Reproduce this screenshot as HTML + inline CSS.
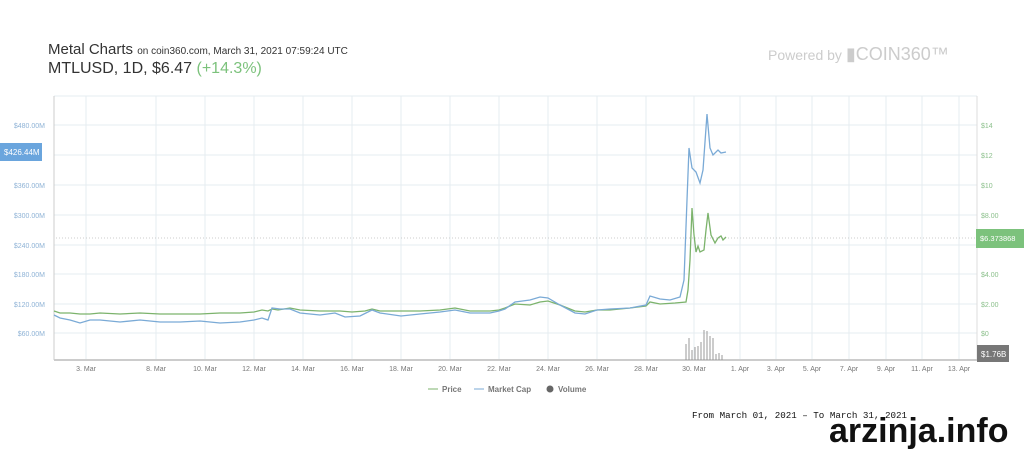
<!DOCTYPE html>
<html><head><meta charset="utf-8"><style>
body{margin:0;width:1024px;height:448px;background:#fff;overflow:hidden;font-family:"Liberation Sans",sans-serif;position:relative}
.t{position:absolute;white-space:nowrap}
</style></head><body>
<div class="t" style="left:48px;top:41px;font-size:15px;color:#333">Metal Charts <span style="font-size:10px">on coin360.com, March 31, 2021 07:59:24 UTC</span></div>
<div class="t" style="left:48px;top:60px;font-size:16px;color:#333">MTLUSD, 1D, $6.47 <span style="color:#7cc27c">(+14.3%)</span></div>
<div class="t" style="left:768px;top:44px;font-size:14px;color:#ccc">Powered by <span style="font-size:18px">▮COIN360™</span></div>
<svg width="1024" height="448" style="position:absolute;left:0;top:0" font-family="Liberation Sans, sans-serif">
<g stroke="#e6ecf0" stroke-width="1">
<line x1="54" y1="96" x2="977" y2="96"/>
<line x1="54" y1="125" x2="977" y2="125"/><line x1="54" y1="155" x2="977" y2="155"/><line x1="54" y1="185" x2="977" y2="185"/><line x1="54" y1="215" x2="977" y2="215"/><line x1="54" y1="245" x2="977" y2="245"/><line x1="54" y1="274" x2="977" y2="274"/><line x1="54" y1="304" x2="977" y2="304"/><line x1="54" y1="333" x2="977" y2="333"/>
<line x1="86" y1="96" x2="86" y2="360"/><line x1="156" y1="96" x2="156" y2="360"/><line x1="205" y1="96" x2="205" y2="360"/><line x1="254" y1="96" x2="254" y2="360"/><line x1="303" y1="96" x2="303" y2="360"/><line x1="352" y1="96" x2="352" y2="360"/><line x1="401" y1="96" x2="401" y2="360"/><line x1="450" y1="96" x2="450" y2="360"/><line x1="499" y1="96" x2="499" y2="360"/><line x1="548" y1="96" x2="548" y2="360"/><line x1="597" y1="96" x2="597" y2="360"/><line x1="646" y1="96" x2="646" y2="360"/><line x1="694" y1="96" x2="694" y2="360"/><line x1="740" y1="96" x2="740" y2="360"/><line x1="776" y1="96" x2="776" y2="360"/><line x1="812" y1="96" x2="812" y2="360"/><line x1="849" y1="96" x2="849" y2="360"/><line x1="886" y1="96" x2="886" y2="360"/><line x1="922" y1="96" x2="922" y2="360"/><line x1="959" y1="96" x2="959" y2="360"/>
</g>
<line x1="54" y1="96" x2="54" y2="360" stroke="#ccc"/>
<line x1="977" y1="96" x2="977" y2="360" stroke="#ddd"/>
<line x1="54" y1="360" x2="977" y2="360" stroke="#ccc" stroke-width="2"/>
<line x1="56" y1="238" x2="977" y2="238" stroke="#ccc" stroke-dasharray="1,2"/>
<g font-size="7" fill="#8fb3d6" text-anchor="end">
<text x="45" y="128">$480.00M</text><text x="45" y="188">$360.00M</text><text x="45" y="218">$300.00M</text><text x="45" y="248">$240.00M</text><text x="45" y="277">$180.00M</text><text x="45" y="307">$120.00M</text><text x="45" y="336">$60.00M</text>
</g>
<rect x="0" y="143" width="42" height="18" fill="#6aa5dd"/>
<text x="4" y="155" font-size="8" fill="#fff">$426.44M</text>
<g font-size="7" fill="#8cc08c">
<text x="981" y="128">$14</text><text x="981" y="158">$12</text><text x="981" y="188">$10</text><text x="981" y="218">$8.00</text><text x="981" y="277">$4.00</text><text x="981" y="307">$2.00</text><text x="981" y="336">$0</text>
</g>
<rect x="976" y="229" width="48" height="19" fill="#7cc27c"/>
<text x="980" y="241" font-size="7.5" fill="#fff">$6.373868</text>
<rect x="977" y="345" width="32" height="17" fill="#777"/>
<text x="981" y="357" font-size="8" fill="#fff">$1.76B</text>
<g font-size="7" fill="#777" text-anchor="middle">
<text x="86" y="371">3. Mar</text><text x="156" y="371">8. Mar</text><text x="205" y="371">10. Mar</text><text x="254" y="371">12. Mar</text><text x="303" y="371">14. Mar</text><text x="352" y="371">16. Mar</text><text x="401" y="371">18. Mar</text><text x="450" y="371">20. Mar</text><text x="499" y="371">22. Mar</text><text x="548" y="371">24. Mar</text><text x="597" y="371">26. Mar</text><text x="646" y="371">28. Mar</text><text x="694" y="371">30. Mar</text><text x="740" y="371">1. Apr</text><text x="776" y="371">3. Apr</text><text x="812" y="371">5. Apr</text><text x="849" y="371">7. Apr</text><text x="886" y="371">9. Apr</text><text x="922" y="371">11. Apr</text><text x="959" y="371">13. Apr</text>
</g>
<g stroke="#999" stroke-width="1">
<line x1="686" y1="360" x2="686" y2="344"/><line x1="689" y1="360" x2="689" y2="338"/><line x1="692" y1="360" x2="692" y2="350"/><line x1="695" y1="360" x2="695" y2="347"/><line x1="698" y1="360" x2="698" y2="346"/><line x1="701" y1="360" x2="701" y2="342"/><line x1="704" y1="360" x2="704" y2="330"/><line x1="707" y1="360" x2="707" y2="331"/><line x1="710" y1="360" x2="710" y2="336"/><line x1="713" y1="360" x2="713" y2="338"/><line x1="716" y1="360" x2="716" y2="354"/><line x1="719" y1="360" x2="719" y2="353"/><line x1="722" y1="360" x2="722" y2="355"/>
</g>
<polyline fill="none" stroke="#7cb36c" stroke-width="1.3" points="54,311 60,313 70,313 80,314 90,314 100,313 120,314 140,313 160,314 180,314 200,314 220,313 240,313 254,312 262,310 268,311 272,309 278,310 290,308 300,310 320,311 340,311 352,312 365,311 372,309 380,311 401,311 420,311 440,310 455,308 470,311 490,311 499,310 505,308 515,304 530,305 540,302 548,301 560,305 575,311 585,312 597,310 610,310 630,308 646,306 650,302 660,304 675,303 686,302 688,290 690,260 692,208 694,235 696,252 698,246 700,252 704,250 706,230 708,213 711,235 715,243 718,238 721,236 723,240 726,237"/>
<polyline fill="none" stroke="#7aaad6" stroke-width="1.3" points="54,315 60,318 70,320 80,323 90,320 100,320 120,322 140,320 160,322 180,322 200,321 220,323 240,322 254,320 262,318 268,320 272,308 280,309 290,309 300,313 320,315 335,313 345,317 360,316 372,310 380,313 401,316 420,314 440,312 455,310 470,313 490,313 499,311 505,309 515,302 530,300 540,297 548,298 560,305 575,313 585,314 597,310 610,309 630,308 646,305 650,296 660,299 670,300 680,297 684,280 687,200 689,148 692,168 696,172 700,183 703,170 707,114 710,148 713,155 718,150 721,153 726,152"/>
<g font-size="8" fill="#777" font-weight="bold">
<line x1="428" y1="389" x2="438" y2="389" stroke="#7cb36c"/><text x="442" y="392">Price</text>
<line x1="474" y1="389" x2="484" y2="389" stroke="#7aaad6"/><text x="488" y="392">Market Cap</text>
<circle cx="550" cy="389" r="3.5" fill="#666"/><text x="558" y="392">Volume</text>
</g>
</svg>
<div class="t" style="left:692px;top:410px;font-family:'Liberation Mono',monospace;font-size:9.2px;color:#111">From March 01, 2021 – To March 31, 2021</div>
<div class="t" style="left:829px;top:412px;font-size:34px;font-weight:bold;color:#111">arzinja.info</div>
</body></html>
